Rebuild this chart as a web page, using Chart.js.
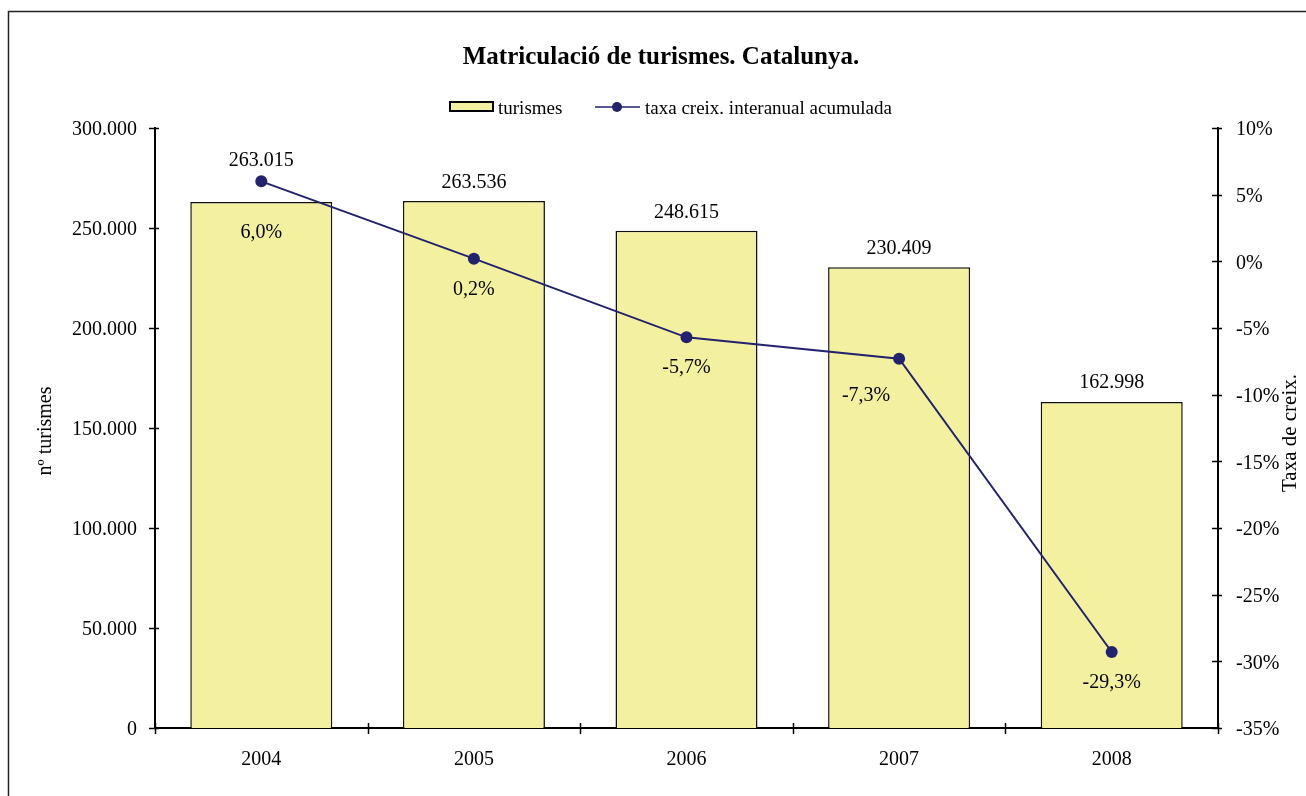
<!DOCTYPE html>
<html>
<head>
<meta charset="utf-8">
<script src="https://cdn.jsdelivr.net/npm/chart.js@4/dist/chart.umd.min.js"></script>
<style>
  html, body { margin: 0; padding: 0; background: #fff; }
  #wrap { width: 1306px; height: 796px; position: relative; }
</style>
</head>
<body>
<div id="wrap"><canvas id="c" width="1306" height="796"></canvas></div>
<script>
// Chart data
const years = ['2004', '2005', '2006', '2007', '2008'];
const turismes = [263015, 263536, 248615, 230409, 162998];
const taxa = [6.0, 0.2, -5.7, -7.3, -29.3];

// Label nudges (px) copied from the reference layout
const barLabelLift = [41, 18, 18, 18, 19];
const rateLabelShift = [[0, 51], [0, 31], [0, 30], [-33, 37], [0, 31]];

const FONT = "'Liberation Serif', 'Times New Roman', serif";
const BAR_FILL = '#F3F1A0';
const NAVY = '#22226E';

const fmtThousands = v => Math.round(v).toString().replace(/\B(?=(\d{3})+(?!\d))/g, '.');
const fmtRate = v => v.toFixed(1).replace('.', ',') + '%';

// Frame, title, legend, axis titles, crossing ticks and value labels
const decorPlugin = {
  id: 'decor',
  beforeDraw(chart) {
    const ctx = chart.ctx;
    ctx.save();
    ctx.strokeStyle = '#222';
    ctx.lineWidth = 1.5;
    ctx.beginPath();
    ctx.moveTo(8.5, 800);
    ctx.lineTo(8.5, 11.5);
    ctx.lineTo(1310, 11.5);
    ctx.stroke();
    ctx.restore();
  },
  afterDraw(chart) {
    const ctx = chart.ctx;
    const { x, y, y1 } = chart.scales;
    const area = chart.chartArea;
    ctx.save();
    ctx.fillStyle = '#000';
    ctx.strokeStyle = '#000';

    // title
    ctx.font = `bold 25px ${FONT}`;
    ctx.textAlign = 'center';
    ctx.textBaseline = 'middle';
    ctx.fillText('Matriculació de turismes. Catalunya.', 661, 58);

    // legend
    ctx.font = `19px ${FONT}`;
    ctx.textAlign = 'left';
    ctx.fillStyle = BAR_FILL;
    ctx.fillRect(450, 102, 43, 9);
    ctx.lineWidth = 2;
    ctx.strokeRect(450, 102, 43, 9);
    ctx.fillStyle = '#000';
    ctx.fillText('turismes', 498, 109);
    ctx.strokeStyle = NAVY;
    ctx.lineWidth = 1.5;
    ctx.beginPath();
    ctx.moveTo(595, 107);
    ctx.lineTo(640, 107);
    ctx.stroke();
    ctx.fillStyle = NAVY;
    ctx.beginPath();
    ctx.arc(617, 107, 5, 0, Math.PI * 2);
    ctx.fill();
    ctx.fillStyle = '#000';
    ctx.fillText('taxa creix. interanual acumulada', 645, 109);

    // axis titles
    ctx.textAlign = 'center';
    const midY = (area.top + area.bottom) / 2;
    ctx.font = `20px ${FONT}`;
    ctx.save();
    ctx.translate(46, midY + 3);
    ctx.rotate(-Math.PI / 2);
    ctx.fillText('nº turismes', 0, 0);
    ctx.restore();
    ctx.font = `21px ${FONT}`;
    ctx.save();
    ctx.translate(1290, midY + 5);
    ctx.rotate(-Math.PI / 2);
    ctx.fillText('Taxa de creix.', 0, 0);
    ctx.restore();

    // crossing tick marks
    ctx.strokeStyle = '#000';
    ctx.lineWidth = 1.5;
    ctx.beginPath();
    y.ticks.forEach((t, i) => {
      const py = Math.round(y.getPixelForTick(i)) + 0.5;
      ctx.moveTo(area.left - 6, py);
      ctx.lineTo(area.left + 4, py);
    });
    y1.ticks.forEach((t, i) => {
      const py = Math.round(y1.getPixelForTick(i)) + 0.5;
      ctx.moveTo(area.right - 6, py);
      ctx.lineTo(area.right + 4, py);
    });
    const half = (x.getPixelForValue(1) - x.getPixelForValue(0)) / 2;
    for (let i = 0; i <= years.length; i++) {
      const px = Math.round(x.getPixelForValue(i) - half) + 0.5;
      ctx.moveTo(px, area.bottom - 5);
      ctx.lineTo(px, area.bottom + 6);
    }
    ctx.stroke();

    // value labels
    ctx.font = `20px ${FONT}`;
    ctx.fillStyle = '#000';
    ctx.textAlign = 'center';
    ctx.textBaseline = 'middle';
    chart.getDatasetMeta(1).data.forEach((bar, i) => {
      ctx.fillText(fmtThousands(turismes[i]), bar.x, bar.y - barLabelLift[i]);
    });
    chart.getDatasetMeta(0).data.forEach((pt, i) => {
      const [dx, dy] = rateLabelShift[i];
      ctx.fillText(fmtRate(taxa[i]), pt.x + dx, pt.y + dy);
    });
    ctx.restore();
  }
};

Chart.defaults.font.family = FONT;
Chart.defaults.color = '#000';

new Chart(document.getElementById('c'), {
  data: {
    labels: years,
    datasets: [
      {
        type: 'line',
        label: 'taxa creix. interanual acumulada',
        data: taxa,
        yAxisID: 'y1',
        borderColor: NAVY,
        borderWidth: 2,
        backgroundColor: NAVY,
        pointRadius: 6,
        pointBorderWidth: 0,
        tension: 0,
        order: 0,
      },
      {
        type: 'bar',
        label: 'turismes',
        data: turismes,
        yAxisID: 'y',
        backgroundColor: BAR_FILL,
        borderColor: '#111',
        borderWidth: 1.5,
        barPercentage: 1,
        categoryPercentage: 0.668,
        order: 1,
      },
    ],
  },
  options: {
    responsive: false,
    animation: false,
    layout: { padding: { top: 128, left: 0, right: 0, bottom: 0 } },
    plugins: {
      legend: { display: false },
      title: { display: false },
      tooltip: { enabled: false },
    },
    scales: {
      x: {
        grid: { display: false, drawTicks: false },
        border: { display: true, color: '#000', width: 2 },
        ticks: { font: { size: 20 }, padding: 20 },
        afterFit: s => { s.height = 68; },
      },
      y: {
        position: 'left',
        min: 0,
        max: 300000,
        grid: { display: false, drawTicks: false },
        border: { display: true, color: '#000', width: 2 },
        ticks: {
          stepSize: 50000,
          font: { size: 20 },
          padding: 18,
          labelOffset: 2,
          callback: v => fmtThousands(v),
        },
        afterFit: s => { s.width = 155; },
      },
      y1: {
        position: 'right',
        min: -35,
        max: 10,
        grid: { display: false, drawTicks: false },
        border: { display: true, color: '#000', width: 2 },
        ticks: {
          stepSize: 5,
          font: { size: 20 },
          padding: 18,
          labelOffset: 2,
          callback: v => v + '%',
        },
        afterFit: s => { s.width = 88; },
      },
    },
  },
  plugins: [decorPlugin],
});
</script>
</body>
</html>
